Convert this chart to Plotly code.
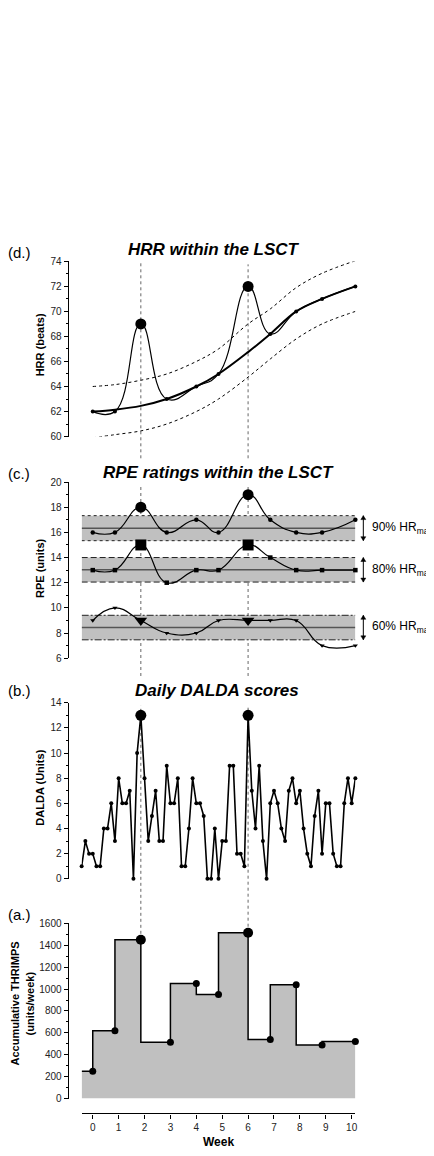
import plotly.graph_objects as go

# The page places the figure 8 px in from the top-left corner (default body margin),
# so the figure is sized to end exactly at the 434x1156 window edge.
OFF = 8
W, H = 434 - OFF, 1156 - OFF
FONT = "Arial, Liberation Sans, sans-serif"

# ---------------- data (x in days; week = day/7) ----------------
week_ticks = [0, 1, 2, 3, 4, 5, 6, 7, 8, 9, 10]
event_days = [13, 42]          # highlighted days (dashed guide lines)

# (d) HRR within the LSCT
hrr_days = [0, 6, 13, 20, 28, 34, 42, 48, 55, 62, 71]
hrr = [62, 62, 69, 63, 64, 65, 72, 68.2, 70, 71, 72]
hrr_trend = [62.0, 62.15, 62.45, 63.0, 64.0, 65.0, 66.75, 68.2, 70.0, 71.0, 72.0]
hrr_upper = [64.0, 64.15, 64.5, 65.0, 66.0, 67.0, 69.0, 70.2, 71.9, 73.05, 74.05]
hrr_lower = [59.9, 60.15, 60.45, 61.0, 62.0, 63.0, 64.75, 66.2, 67.8, 69.0, 70.0]

# (c) RPE ratings within the LSCT
rpe_days = [0, 6, 13, 20, 28, 34, 42, 48, 55, 62, 71]
rpe90 = [16, 16, 18, 16, 17, 16, 19, 17, 16, 16, 17]
rpe80 = [13, 13, 15, 12, 13, 13, 15, 14, 13, 13, 13]
rpe60 = [9, 10, 9, 8, 8, 9, 9, 9, 9, 7, 7]
band_labels = ["90% HR<sub>max</sub>", "80% HR<sub>max</sub>", "60% HR<sub>max</sub>"]
band_mid = [16.33, 13.03, 8.44]
band_low = [15.34, 12.05, 7.46]
band_high = [17.33, 14.0, 9.41]

# (b) Daily DALDA scores (one value per day, day -3 .. 71)
dalda_days = list(range(-3, 72))
dalda = [1, 3, 2, 2, 1, 1, 4, 4, 6, 3,
         8, 6, 6, 7, 0, 10, 13, 8, 3, 5,
         7, 3, 3, 9, 6, 6, 8, 1, 1, 4,
         8, 6, 6, 5, 0, 0, 4, 0, 3, 3,
         9, 9, 2, 2, 1, 13, 7, 4, 9, 3,
         0, 6, 7, 6, 4, 3, 7, 8, 6, 7,
         4, 2, 1, 5, 7, 2, 6, 6, 2, 1,
         1, 6, 8, 6, 8]

# (a) Accumulative THRIMPS
thr_days = [0, 6, 13, 21, 28, 34, 42, 48, 55, 62, 71]
thrimps = [250, 620, 1450, 515, 1050, 950, 1515, 540, 1040, 490, 520]

# ---------------- layout helpers (arguments are window pixels) ----------------
def py(px):
    return 1 - (px - OFF) / H

def px_x(px):
    return (px - OFF) / W

X_RANGE = [-3, 71]
doms = {
    "y": (435, 258, [60, 74], 2, 1),
    "y2": (659, 481, [6, 20], 2, 1),
    "y3": (882, 704, [0, 14], 2, 1),
    "y4": (1104, 927, [0, 1600], 200, 100),
}

fig = go.Figure()
BLACK = "#000000"

def pick(days, vals, sel):
    return [v for d, v in zip(days, vals) if d in sel], [d for d in days if d in sel]

# ---- (d) HRR ----
fig.add_trace(go.Scatter(x=hrr_days, y=hrr_upper, mode="lines", line=dict(color=BLACK, width=1, dash="dot", shape="spline"), yaxis="y"))
fig.add_trace(go.Scatter(x=hrr_days, y=hrr_lower, mode="lines", line=dict(color=BLACK, width=1, dash="dot", shape="spline"), yaxis="y"))
fig.add_trace(go.Scatter(x=hrr_days, y=hrr_trend, mode="lines", line=dict(color=BLACK, width=2, shape="spline"), yaxis="y"))
fig.add_trace(go.Scatter(x=hrr_days, y=hrr, mode="lines+markers", line=dict(color=BLACK, width=1.2, shape="spline", smoothing=1.3),
                         marker=dict(size=4, color=BLACK), yaxis="y", cliponaxis=False))
bv, bd = pick(hrr_days, hrr, event_days)
fig.add_trace(go.Scatter(x=bd, y=bv, mode="markers", marker=dict(size=11, color=BLACK), yaxis="y", cliponaxis=False))

# ---- (c) RPE ----
for series, sym in [(rpe90, "circle"), (rpe80, "square"), (rpe60, "triangle-down")]:
    fig.add_trace(go.Scatter(x=rpe_days, y=series, mode="lines+markers",
                             line=dict(color=BLACK, width=1.2, shape="spline", smoothing=1.3),
                             marker=dict(size=4.5, color=BLACK, symbol=sym), yaxis="y2", cliponaxis=False))
    bv, bd = pick(rpe_days, series, event_days)
    fig.add_trace(go.Scatter(x=bd, y=bv, mode="markers", marker=dict(size=11, color=BLACK, symbol=sym),
                             yaxis="y2", cliponaxis=False))

# ---- (b) DALDA ----
fig.add_trace(go.Scatter(x=dalda_days, y=dalda, mode="lines+markers", line=dict(color=BLACK, width=1.6),
                         marker=dict(size=4, color=BLACK), yaxis="y3", cliponaxis=False))
bv, bd = pick(dalda_days, dalda, event_days)
fig.add_trace(go.Scatter(x=bd, y=bv, mode="markers", marker=dict(size=11, color=BLACK), yaxis="y3", cliponaxis=False))

# ---- (a) THRIMPS (step area) ----
fig.add_trace(go.Scatter(x=[X_RANGE[0]] + thr_days, y=[thrimps[0]] + thrimps, mode="lines",
                         line=dict(color=BLACK, width=1.5, shape="vh"), fill="tozeroy", fillcolor="#c0c0c0",
                         yaxis="y4", cliponaxis=False))
fig.add_trace(go.Scatter(x=thr_days, y=thrimps, mode="markers", marker=dict(size=7, color=BLACK), yaxis="y4", cliponaxis=False))
bv, bd = pick(thr_days, thrimps, event_days)
fig.add_trace(go.Scatter(x=bd, y=bv, mode="markers", marker=dict(size=10, color=BLACK), yaxis="y4", cliponaxis=False))

# ---------------- axes ----------------
fig.update_layout(
    xaxis=dict(domain=[px_x(82), px_x(357)], range=X_RANGE, anchor="free", position=py(1119),
               showline=True, linecolor=BLACK, linewidth=1.3, ticks="outside", ticklen=4, tickwidth=1.2,
               tickcolor=BLACK, tickvals=[w * 7 for w in week_ticks], ticktext=[str(w) for w in week_ticks],
               showgrid=False, zeroline=False, tickfont=dict(size=10, color="#222", family=FONT)),
)
for name, (bot, top, rng, dt, mdt) in doms.items():
    key = "yaxis" if name == "y" else "yaxis" + name[1:]
    fig.update_layout(**{key: dict(
        domain=[py(bot), py(top)], range=rng, anchor="free", position=px_x(68),
        showline=True, linecolor=BLACK, linewidth=1.3, ticks="outside", ticklen=4, tickwidth=1.2, tickcolor=BLACK,
        dtick=dt, tick0=rng[0], showgrid=False, zeroline=False,
        minor=dict(dtick=mdt, ticklen=2, tickwidth=1, tickcolor=BLACK, ticks="outside", showgrid=False),
        tickfont=dict(size=10, color="#222", family=FONT))})

# ---------------- shapes ----------------
shapes = []
dash_styles = ["dot", "6px,3px", "7px,2px,2px,2px"]
for lo, mid, hi, ds in zip(band_low, band_mid, band_high, dash_styles):
    shapes.append(dict(type="rect", xref="x", yref="y2", x0=X_RANGE[0], x1=X_RANGE[1], y0=lo, y1=hi,
                       fillcolor="#c0c0c0", line=dict(width=0), layer="below"))
    for yy in (lo, hi):
        shapes.append(dict(type="line", xref="x", yref="y2", x0=X_RANGE[0], x1=X_RANGE[1], y0=yy, y1=yy,
                           line=dict(color="#222", width=1, dash=ds), layer="below"))
    shapes.append(dict(type="line", xref="x", yref="y2", x0=X_RANGE[0], x1=X_RANGE[1], y0=mid, y1=mid,
                       line=dict(color="#555", width=1.5), layer="below"))
    # double-headed arrow spanning the band, right of the plot
    ax = px_x(365)
    hw = 2.5 / W
    hh = 4.0 / 12.71
    shapes.append(dict(type="line", xref="paper", yref="y2", x0=ax, x1=ax, y0=lo, y1=hi,
                       line=dict(color=BLACK, width=1)))
    shapes.append(dict(type="path", xref="paper", yref="y2",
                       path=f"M {ax - hw},{hi - hh} L {ax},{hi} L {ax + hw},{hi - hh} Z",
                       fillcolor=BLACK, line=dict(color=BLACK, width=0.5)))
    shapes.append(dict(type="path", xref="paper", yref="y2",
                       path=f"M {ax - hw},{lo + hh} L {ax},{lo} L {ax + hw},{lo + hh} Z",
                       fillcolor=BLACK, line=dict(color=BLACK, width=0.5)))

# dashed guide lines through the panels
bot_a, top_a = doms["y4"][0], doms["y4"][1]
for d, t0 in zip(event_days, [257, 261]):
    v = thrimps[thr_days.index(d)]
    dot_px = bot_a - (v / 1600.0) * (bot_a - top_a)
    for y0, y1 in [(t0, 457), (486, 677), (707, dot_px)]:
        shapes.append(dict(type="line", xref="x", yref="paper", x0=d, x1=d, y0=py(y1), y1=py(y0),
                           line=dict(color="#666", width=1, dash="dot"), layer="below"))
fig.update_layout(shapes=shapes)

# ---------------- annotations ----------------
ann = []
def txt(text, x, y, size, xanchor="center", angle=0, bold=False, italic=False):
    t = text
    if italic:
        t = "<i>" + t + "</i>"
    if bold:
        t = "<b>" + t + "</b>"
    ann.append(dict(text=t, xref="paper", yref="paper", x=px_x(x), y=py(y), xanchor=xanchor, yanchor="middle",
                    showarrow=False, textangle=angle, font=dict(size=size, color=BLACK, family=FONT)))

txt("HRR within the LSCT", 215, 246, 17, bold=True, italic=True)
txt("RPE ratings within the LSCT", 219, 471, 17, bold=True, italic=True)
txt("Daily DALDA scores", 218, 692, 17, bold=True, italic=True)
for lab, yy in [("(d.)", 249), ("(c.)", 472), ("(b.)", 692), ("(a.)", 918)]:
    txt(lab, 6, yy, 15, xanchor="left")
txt("HRR (beats)", 40, 342, 11, angle=-90, bold=True)
txt("RPE (units)", 40, 568, 11, angle=-90, bold=True)
txt("DALDA (Units)", 40, 790, 11, angle=-90, bold=True)
txt("Accumulative THRIMPS", 15, 1008, 11, angle=-90, bold=True)
txt("(units/week)", 30, 1008, 11, angle=-90, bold=True)
txt("Week", 219, 1148, 12, bold=True)

for lab, mid in zip(band_labels, band_mid):
    ann.append(dict(text=lab, xref="paper", yref="y2", x=px_x(372), y=mid, xanchor="left", yanchor="middle",
                    showarrow=False, font=dict(size=12, color=BLACK, family=FONT)))
fig.update_layout(annotations=ann)

fig.update_layout(width=W, height=H, margin=dict(l=0, r=0, t=0, b=0), showlegend=False,
                  plot_bgcolor="rgba(0,0,0,0)", paper_bgcolor="white", font=dict(family=FONT))

fig.write_html("out.html")
